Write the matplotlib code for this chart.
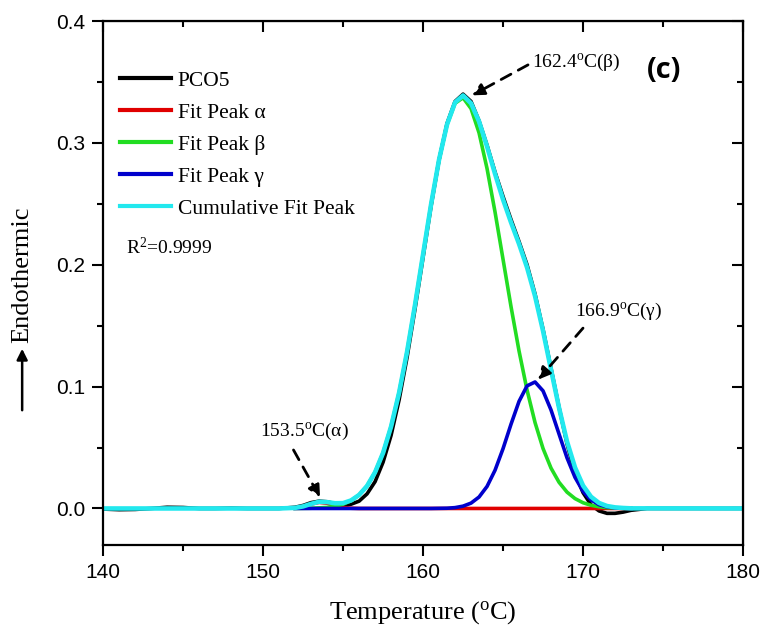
import numpy as np
import matplotlib.pyplot as plt
from matplotlib.patches import FancyArrowPatch

temp_data = [140, 141, 142, 143, 144, 145, 146, 147, 148, 149, 150, 151,
             152, 152.5, 153, 153.5, 154, 154.5, 155, 155.5, 156, 156.5, 157, 157.5,
             158, 158.5, 159, 159.5, 160, 160.5, 161, 161.5, 162, 162.5, 163, 163.5,
             164, 164.5, 165, 165.5, 166, 166.5, 167, 167.5, 168, 168.5, 169, 169.5,
             170, 170.5, 171, 171.5, 172, 172.5, 173, 174, 175, 180]
pco5 = [-0.0005, -0.001, -0.0008, 0.0, 0.001, 0.0008, 0.0, 0.0, 0.0003, 0.0, 0.0, 0.0,
        0.001, 0.0025, 0.0048, 0.006, 0.0055, 0.004, 0.003, 0.0035, 0.006, 0.012, 0.022, 0.038,
        0.060, 0.089, 0.124, 0.164, 0.206, 0.248, 0.286, 0.316, 0.334, 0.340, 0.334, 0.318,
        0.298, 0.276, 0.256, 0.237, 0.219, 0.200, 0.176, 0.147, 0.115, 0.083, 0.053, 0.029,
        0.013, 0.003, -0.002, -0.004, -0.004, -0.003, -0.0015, 0.0, 0.0, 0.0]

# fitted peaks, sampled every 0.5 C over the fit range 152-173
temp_fit = np.arange(152, 173.01, 0.5)
peak_alpha = [0.0005, 0.0016, 0.0036, 0.005, 0.0043, 0.0024, 0.0009, 0.0002] + [0.0] * 35
peak_beta = [0.0, 0.0001, 0.0002, 0.0005, 0.0009, 0.0018, 0.0035, 0.0064,
             0.0111, 0.0185, 0.0297, 0.0456, 0.0672, 0.0949, 0.1286, 0.1673,
             0.2085, 0.2495, 0.2862, 0.3150, 0.3325, 0.3370, 0.3281, 0.3082,
             0.2789, 0.2432, 0.2044, 0.1655, 0.1292, 0.0972, 0.0705, 0.0492,
             0.0331, 0.0215, 0.0134, 0.0081, 0.0047, 0.0026, 0.0014, 0.0007,
             0.0004, 0.0002, 0.0001]
peak_gamma = [0.0] * 18 + [0.0001, 0.0002, 0.0007, 0.0019, 0.0044, 0.0094,
                           0.0181, 0.0314, 0.0491, 0.0692, 0.0879, 0.1006, 0.1038, 0.0965,
                           0.0808, 0.0611, 0.0415, 0.0255, 0.0141, 0.0070, 0.0031, 0.0013,
                           0.0005, 0.0002, 0.0]
peak_cum_fit = [0.0005, 0.0017, 0.0038, 0.0055, 0.0052, 0.0043, 0.0044, 0.0066,
                0.0111, 0.0185, 0.0297, 0.0456, 0.0672, 0.0949, 0.1286, 0.1673,
                0.2085, 0.2495, 0.2863, 0.3152, 0.3332, 0.3389, 0.3325, 0.3176,
                0.2970, 0.2746, 0.2535, 0.2347, 0.2171, 0.1978, 0.1743, 0.1457,
                0.1139, 0.0826, 0.0549, 0.0336, 0.0188, 0.0096, 0.0045, 0.0020,
                0.0009, 0.0004, 0.0001]
# cumulative curve is drawn across the whole axis (zero outside fit range)
temp_cum = [140, 151] + list(temp_fit) + [180]
peak_cum = [0.0, 0.0] + peak_cum_fit + [0.0]

serif = 'Liberation Serif'
sans = 'Liberation Sans'

fig = plt.figure(figsize=(7.64, 6.29), dpi=100)
ax = fig.add_axes([0.135, 0.1335, 0.8375, 0.8331])

ax.plot(temp_data, pco5, color='black', lw=2.6, label='PCO5')
ax.plot(temp_fit, peak_alpha, color='#e00000', lw=2.6, label='Fit Peak \u03b1')
ax.plot(temp_fit, peak_beta, color='#22dd22', lw=2.6, label='Fit Peak \u03b2')
ax.plot(temp_fit, peak_gamma, color='#0000cc', lw=2.6, label='Fit Peak \u03b3')
ax.plot(temp_cum, peak_cum, color='#22e8ee', lw=3.3, label='Cumulative Fit Peak')

ax.set_xlim(140, 180)
ax.set_ylim(-0.03, 0.4)
ax.set_xticks([140, 150, 160, 170, 180])
ax.set_xticks([145, 155, 165, 175], minor=True)
ax.set_yticks([0.0, 0.1, 0.2, 0.3, 0.4])
ax.set_yticks([0.05, 0.15, 0.25, 0.35], minor=True)
ax.yaxis.set_major_formatter(plt.FormatStrFormatter('%.1f'))
ax.tick_params(which='major', direction='out', length=8, width=1.5, pad=5,
               labelsize=15)
ax.tick_params(which='minor', direction='out', length=4.5, width=1.5)
for lab in ax.get_xticklabels() + ax.get_yticklabels():
    lab.set_fontfamily(sans)
for s in ax.spines.values():
    s.set_linewidth(1.6)

# mirrored inward ticks on top and right
top = ax.secondary_xaxis('top')
top.set_xticks([140, 150, 160, 170, 180])
top.set_xticks([145, 155, 165, 175], minor=True)
top.tick_params(which='major', direction='in', length=8, width=1.5, labeltop=False)
top.tick_params(which='minor', direction='in', length=4.5, width=1.5)
right = ax.secondary_yaxis('right')
right.set_yticks([0.0, 0.1, 0.2, 0.3, 0.4])
right.set_yticks([0.05, 0.15, 0.25, 0.35], minor=True)
right.tick_params(which='major', direction='in', length=8, width=1.5, labelright=False)
right.tick_params(which='minor', direction='in', length=4.5, width=1.5)

ax.set_xlabel('Temperature ($\\mathregular{^{o}}$C)', fontfamily=serif, fontsize=19,
              labelpad=12)

# y label with arrow
fig.text(0.029, 0.455, 'Endothermic', rotation=90, ha='center', va='bottom',
         fontfamily=serif, fontsize=19)
fig.add_artist(FancyArrowPatch(
    (0.029, 1 - 413 / 629), (0.029, 1 - 346 / 629), transform=fig.transFigure,
    arrowstyle='-|>', mutation_scale=16, lw=1.8, color='black'))

leg = ax.legend(loc='upper left', bbox_to_anchor=(-0.008, 0.946), frameon=False,
                prop={'family': serif, 'size': 15.5}, handlelength=2.4,
                handletextpad=0.3, labelspacing=0.55, borderaxespad=0.6)
for h in leg.get_lines():
    h.set_linewidth(3)

ax.text(0.035, 0.567, 'R$\\mathregular{^2}$=0.9999', transform=ax.transAxes,
        fontfamily=serif, fontsize=14, va='center')

ax.text(0.85, 0.906, '(c)', transform=ax.transAxes, fontfamily='Open Sans',
        fontweight='bold', fontsize=21, va='center')

# peak annotations: dashed arrows + labels
ann = dict(arrowstyle='-|>', linestyle=(0, (4, 3)), lw=2.0, color='black',
           mutation_scale=18, shrinkA=0, shrinkB=0)
ax.annotate('', xy=(153.56, 0.009), xytext=(151.9, 0.048), arrowprops=ann)
ax.text(152.6, 0.063, '153.5$\\mathregular{^{o}}$C($\\mathregular{\\alpha}$)',
        ha='center', va='center', fontfamily=serif, fontsize=14)
ax.annotate('', xy=(163.06, 0.339), xytext=(166.56, 0.364), arrowprops=ann)
ax.text(169.6, 0.366, '162.4$\\mathregular{^{o}}$C($\\mathregular{\\beta}$)',
        ha='center', va='center', fontfamily=serif, fontsize=14)
ax.annotate('', xy=(167.19, 0.1057), xytext=(170.0, 0.148), arrowprops=ann)
ax.text(172.2, 0.162, '166.9$\\mathregular{^{o}}$C($\\mathregular{\\gamma}$)',
        ha='center', va='center', fontfamily=serif, fontsize=14)

fig.savefig('out.png', dpi=100)
